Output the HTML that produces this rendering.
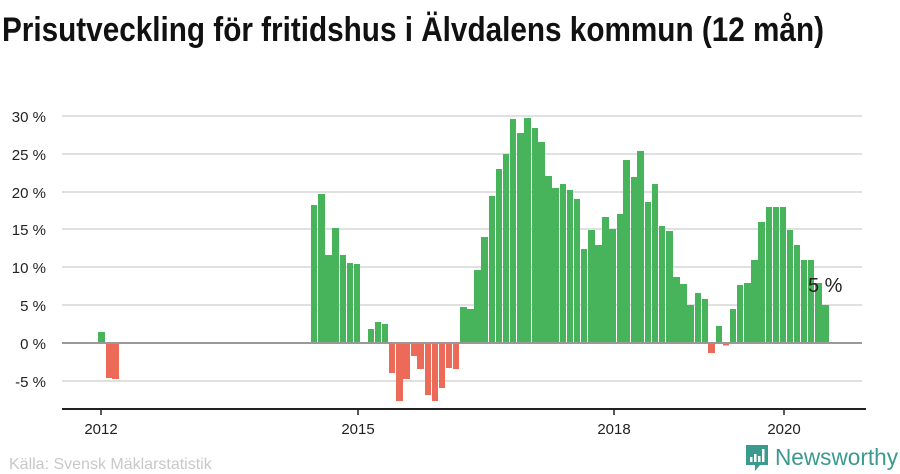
<!DOCTYPE html>
<html><head><meta charset="utf-8"><style>
html,body{margin:0;padding:0;background:#fff;}
svg{display:block;}
</style></head><body>
<svg width="900" height="474" viewBox="0 0 900 474" xmlns="http://www.w3.org/2000/svg">
<text x="2" y="41" font-family="'Liberation Sans Narrow','Liberation Sans',sans-serif" font-weight="bold" font-size="34" fill="#111" textLength="822" lengthAdjust="spacingAndGlyphs">Prisutveckling för fritidshus i Älvdalens kommun (12 mån)</text>
<g stroke="#e0e0e0" stroke-width="2">
<line x1="62" x2="862" y1="116" y2="116"/><line x1="62" x2="862" y1="154" y2="154"/>
<line x1="62" x2="862" y1="192" y2="192"/><line x1="62" x2="862" y1="229" y2="229"/>
<line x1="62" x2="862" y1="267" y2="267"/><line x1="62" x2="862" y1="305" y2="305"/>
<line x1="62" x2="862" y1="381" y2="381"/>
</g>
<g font-family="'Liberation Sans',sans-serif" font-size="15" fill="#222" text-anchor="end">
<text x="46" y="122">30 %</text><text x="46" y="160">25 %</text><text x="46" y="198">20 %</text>
<text x="46" y="235">15 %</text><text x="46" y="273">10 %</text><text x="46" y="311">5 %</text>
<text x="46" y="349">0 %</text><text x="46" y="387">-5 %</text>
</g>
<g fill="#47b35a">
<rect x="98" y="332" width="7" height="11"/>
<rect x="311" y="205" width="6" height="138"/><rect x="318" y="194" width="7" height="149"/>
<rect x="325" y="255" width="7" height="88"/><rect x="332" y="228" width="7" height="115"/>
<rect x="340" y="255" width="6" height="88"/><rect x="347" y="263" width="6" height="80"/>
<rect x="354" y="264" width="6" height="79"/>
<rect x="368" y="329" width="6" height="14"/><rect x="375" y="322" width="6" height="21"/>
<rect x="382" y="324" width="6" height="19"/>
<rect x="460" y="307" width="7" height="36"/><rect x="467" y="309" width="7" height="34"/>
<rect x="474" y="270" width="7" height="73"/><rect x="481" y="237" width="7" height="106"/>
<rect x="489" y="196" width="6" height="147"/><rect x="496" y="169" width="6" height="174"/>
<rect x="503" y="154" width="6" height="189"/><rect x="510" y="119" width="6" height="224"/>
<rect x="517" y="133" width="7" height="210"/><rect x="524" y="118" width="7" height="225"/>
<rect x="532" y="128" width="6" height="215"/><rect x="538" y="142" width="7" height="201"/>
<rect x="545" y="176" width="7" height="167"/><rect x="552" y="188" width="7" height="155"/>
<rect x="560" y="184" width="6" height="159"/><rect x="567" y="190" width="6" height="153"/>
<rect x="574" y="199" width="6" height="144"/><rect x="581" y="249" width="6" height="94"/>
<rect x="588" y="230" width="7" height="113"/><rect x="595" y="245" width="7" height="98"/>
<rect x="602" y="217" width="7" height="126"/><rect x="609" y="229" width="7" height="114"/>
<rect x="617" y="214" width="6" height="129"/><rect x="623" y="160" width="7" height="183"/>
<rect x="631" y="177" width="6" height="166"/><rect x="637" y="151" width="7" height="192"/>
<rect x="645" y="202" width="6" height="141"/><rect x="652" y="184" width="6" height="159"/>
<rect x="659" y="226" width="6" height="117"/><rect x="666" y="231" width="7" height="112"/>
<rect x="673" y="277" width="7" height="66"/><rect x="680" y="284" width="7" height="59"/>
<rect x="687" y="305" width="7" height="38"/><rect x="695" y="293" width="6" height="50"/>
<rect x="702" y="299" width="6" height="44"/>
<rect x="716" y="326" width="6" height="17"/>
<rect x="730" y="309" width="6" height="34"/><rect x="737" y="285" width="6" height="58"/>
<rect x="744" y="283" width="7" height="60"/><rect x="751" y="260" width="7" height="83"/>
<rect x="758" y="222" width="7" height="121"/><rect x="766" y="207" width="6" height="136"/>
<rect x="773" y="207" width="6" height="136"/><rect x="780" y="207" width="6" height="136"/>
<rect x="787" y="230" width="6" height="113"/><rect x="794" y="245" width="6" height="98"/>
<rect x="801" y="260" width="6" height="83"/><rect x="808" y="260" width="6" height="83"/>
<rect x="815" y="283" width="7" height="60"/><rect x="822" y="305" width="7" height="38"/>
</g>
<g fill="#ec6b58">
<rect x="106" y="344" width="6" height="34"/><rect x="112" y="344" width="7" height="35"/>
<rect x="389" y="344" width="6" height="29"/><rect x="396" y="344" width="7" height="57"/>
<rect x="403" y="344" width="7" height="35"/><rect x="411" y="344" width="6" height="12"/>
<rect x="417" y="344" width="7" height="25"/><rect x="425" y="344" width="6" height="51"/>
<rect x="432" y="344" width="6" height="57"/><rect x="439" y="344" width="6" height="44"/>
<rect x="446" y="344" width="6" height="24"/><rect x="453" y="344" width="6" height="25"/>
<rect x="708" y="344" width="7" height="9"/><rect x="723" y="344" width="6" height="1.5"/>
</g>
<line x1="62" x2="862" y1="343" y2="343" stroke="#999" stroke-width="2"/>
<line x1="62" x2="866" y1="409" y2="409" stroke="#222" stroke-width="2"/>
<g stroke="#222" stroke-width="1.5">
<line x1="101" x2="101" y1="409" y2="415"/><line x1="358" x2="358" y1="409" y2="415"/>
<line x1="614" x2="614" y1="409" y2="415"/><line x1="784" x2="784" y1="409" y2="415"/>
</g>
<g font-family="'Liberation Sans',sans-serif" font-size="15" fill="#222" text-anchor="middle">
<text x="101" y="434">2012</text><text x="358" y="434">2015</text>
<text x="614" y="434">2018</text><text x="784" y="434">2020</text>
</g>
<text x="808" y="292" font-family="'Liberation Sans',sans-serif" font-size="20" fill="#222">5 %</text>
<text x="9" y="469" font-family="'Liberation Sans Narrow','Liberation Sans',sans-serif" font-size="16" fill="#c8c8c8">Källa: Svensk Mäklarstatistik</text>
<g fill="#3a9a8e">
<path d="M746 445 h22 v20 h-8 l-5 6 v-6 h-9 z"/>
</g>
<g fill="#fff">
<rect x="750" y="457" width="2.5" height="5"/><rect x="754" y="454" width="2.5" height="8"/>
<rect x="758" y="456" width="2.5" height="6"/><rect x="762" y="449" width="2.5" height="13"/>
</g>
<text x="775" y="465" font-family="'Liberation Sans Narrow','Liberation Sans',sans-serif" font-size="23" fill="#3a9a8e" textLength="123" lengthAdjust="spacingAndGlyphs">Newsworthy</text>
</svg>
</body></html>
